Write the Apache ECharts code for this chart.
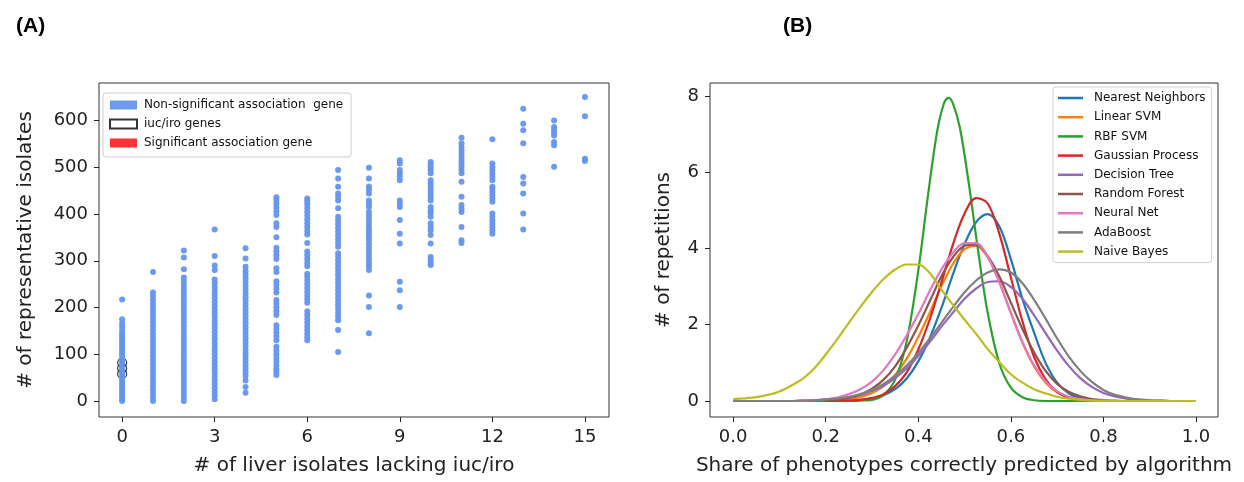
<!DOCTYPE html>
<html>
<head>
<meta charset="utf-8">
<script src="https://cdn.jsdelivr.net/npm/echarts@6/dist/echarts.min.js"></script>
<style>
  html, body { margin: 0; padding: 0; background: #fff; }
  #chart { width: 1244px; height: 482px; }
</style>
</head>
<body>
<div id="chart"></div>
<script>
// ---- panel A: liver isolates vs representative isolates ----
const liverIsolates = [0, 1, 2, 3, 4, 5, 6, 7, 8, 9, 10, 11, 12, 13, 14, 15];
const repIsolates = [
  [0, 5, 10, 15, 20, 25, 30, 35, 40, 45, 50, 55, 60, 65, 70, 75, 80, 85, 90, 95, 100, 105, 110, 115, 120, 125, 130, 135, 140, 145, 152, 159, 166, 175, 217],
  [0, 8, 16, 24, 32, 40, 48, 56, 64, 72, 80, 88, 96, 104, 112, 120, 128, 136, 144, 152, 160, 168, 176, 184, 192, 200, 208, 216, 224, 232, 276],
  [0, 8, 16, 24, 32, 40, 48, 56, 64, 72, 80, 88, 96, 104, 112, 120, 128, 136, 144, 152, 160, 168, 176, 184, 192, 200, 208, 216, 224, 232, 240, 248, 256, 264, 282, 307, 322],
  [4, 12, 20, 28, 36, 44, 52, 60, 68, 76, 84, 92, 100, 108, 116, 124, 132, 140, 148, 156, 164, 172, 180, 188, 196, 204, 212, 220, 228, 236, 244, 252, 260, 280, 290, 310, 367],
  [18, 30, 44, 54, 62, 70, 78, 86, 94, 102, 110, 118, 126, 134, 142, 150, 158, 166, 174, 182, 190, 198, 206, 214, 222, 230, 238, 246, 254, 262, 270, 278, 287, 305, 327],
  [56, 62, 68, 76, 84, 92, 100, 108, 116, 130, 138, 146, 154, 162, 184, 192, 200, 208, 216, 232, 240, 248, 256, 276, 284, 304, 312, 320, 328, 350, 372, 380, 398, 406, 414, 422, 430, 436],
  [130, 137, 144, 152, 160, 168, 176, 184, 192, 210, 218, 226, 234, 242, 250, 258, 266, 272, 288, 296, 304, 312, 320, 338, 356, 364, 372, 380, 388, 396, 404, 412, 420, 427, 433],
  [105, 152, 173, 181, 189, 197, 205, 213, 221, 229, 237, 245, 253, 261, 269, 277, 285, 293, 301, 309, 316, 330, 338, 346, 354, 362, 370, 378, 386, 394, 412, 429, 437, 444, 458, 476, 494],
  [145, 201, 226, 280, 288, 296, 304, 312, 320, 328, 336, 344, 351, 358, 365, 372, 380, 388, 396, 404, 415, 422, 429, 444, 452, 459, 476, 499],
  [201, 237, 255, 337, 358, 387, 415, 422, 429, 472, 480, 487, 494, 508, 515],
  [291, 296, 302, 308, 337, 355, 365, 372, 380, 394, 402, 408, 415, 429, 436, 443, 450, 458, 465, 472, 487, 494, 500, 506, 511],
  [338, 344, 372, 404, 411, 419, 437, 469, 487, 494, 501, 508, 515, 522, 529, 536, 543, 551, 563],
  [358, 365, 372, 379, 386, 394, 401, 426, 433, 440, 447, 454, 458, 472, 479, 486, 493, 500, 508, 560],
  [367, 401, 444, 465, 479, 551, 579, 593, 625],
  [501, 547, 554, 568, 574, 580, 586, 600],
  [513, 518, 609, 650]
];
const iucIroGenes = [[0, 58], [0, 70], [0, 82]];
const sigGenes = [];
const liverTicks = [0, 3, 6, 9, 12, 15];
const isolateTicks = [0, 100, 200, 300, 400, 500, 600];

// ---- panel B: density of correct-prediction share per algorithm ----
const shareGrid = [0, 0.025, 0.05, 0.075, 0.1, 0.125, 0.15, 0.175, 0.2, 0.225, 0.25, 0.275, 0.3, 0.325, 0.35, 0.375, 0.4, 0.425, 0.45, 0.475, 0.5,
  0.525, 0.55, 0.575, 0.6, 0.625, 0.65, 0.675, 0.7, 0.725, 0.75, 0.775, 0.8, 0.825, 0.85, 0.875, 0.9, 0.925, 0.95, 0.975, 1.0];
// RBF SVM is narrow, so it gets its own finer grid around the peak
const rbfShareGrid = [0, 0.1, 0.2, 0.25, 0.275, 0.3, 0.325, 0.35, 0.375, 0.4, 0.42, 0.44, 0.455, 0.465, 0.475, 0.49, 0.51, 0.53,
  0.55, 0.575, 0.6, 0.625, 0.65, 0.675, 0.7, 0.8, 0.9, 1.0];
const algorithms = ['Nearest Neighbors', 'Linear SVM', 'RBF SVM', 'Gaussian Process', 'Decision Tree', 'Random Forest', 'Neural Net', 'AdaBoost', 'Naive Bayes'];
const nearestNeighbors = [0, 0, 0, 0, 0, 0, 0, 0, 0, 0, 0.01, 0.03, 0.06, 0.15, 0.31, 0.59, 1.04, 1.66, 2.44, 3.33, 4.12,
  4.69, 4.90, 4.58, 3.72, 2.68, 1.80, 1.00, 0.48, 0.20, 0.07, 0.02, 0.01, 0, 0, 0, 0, 0, 0, 0, 0];
const linearSvm = [0, 0, 0, 0, 0, 0, 0, 0, 0.01, 0.02, 0.05, 0.10, 0.21, 0.39, 0.68, 1.11, 1.68, 2.32, 3.01, 3.60, 3.98,
  4.07, 3.77, 3.13, 2.31, 1.53, 0.91, 0.48, 0.23, 0.10, 0.04, 0.01, 0, 0, 0, 0, 0, 0, 0, 0, 0];
const rbfSvm = [0, 0, 0, 0, 0.01, 0.03, 0.16, 0.56, 1.57, 3.42, 5.30, 7.02, 7.79, 7.95, 7.80, 7.16, 5.63, 3.87,
  2.31, 0.99, 0.35, 0.10, 0.02, 0, 0, 0, 0, 0];
const gaussianProcess = [0, 0, 0, 0, 0, 0, 0, 0, 0, 0, 0.01, 0.03, 0.08, 0.18, 0.39, 0.75, 1.35, 2.15, 3.11, 4.11, 4.92,
  5.32, 5.18, 4.39, 3.24, 2.09, 1.16, 0.57, 0.24, 0.09, 0.03, 0.01, 0, 0, 0, 0, 0, 0, 0, 0, 0];
const decisionTree = [0, 0, 0, 0, 0, 0, 0.01, 0.01, 0.03, 0.05, 0.09, 0.16, 0.26, 0.40, 0.60, 0.86, 1.18, 1.55, 1.95, 2.32, 2.68,
  2.95, 3.12, 3.14, 2.99, 2.68, 2.25, 1.78, 1.32, 0.92, 0.60, 0.37, 0.21, 0.12, 0.06, 0.03, 0.01, 0.01, 0, 0, 0];
const randomForest = [0, 0, 0, 0, 0, 0, 0, 0.01, 0.02, 0.04, 0.08, 0.17, 0.32, 0.56, 0.91, 1.40, 1.98, 2.62, 3.27, 3.77, 4.07,
  4.10, 3.80, 3.27, 2.58, 1.89, 1.28, 0.79, 0.45, 0.24, 0.12, 0.05, 0.02, 0.01, 0, 0, 0, 0, 0, 0, 0];
const neuralNet = [0, 0, 0, 0, 0, 0, 0.01, 0.02, 0.05, 0.09, 0.18, 0.31, 0.51, 0.81, 1.22, 1.72, 2.28, 2.89, 3.45, 3.89, 4.14,
  4.14, 3.78, 3.11, 2.31, 1.55, 0.94, 0.51, 0.25, 0.11, 0.05, 0.02, 0.01, 0, 0, 0, 0, 0, 0, 0, 0];
const adaBoost = [0, 0, 0, 0, 0, 0, 0.01, 0.02, 0.04, 0.06, 0.11, 0.18, 0.29, 0.45, 0.66, 0.93, 1.26, 1.64, 2.05, 2.46, 2.85,
  3.16, 3.37, 3.45, 3.37, 3.09, 2.66, 2.16, 1.64, 1.17, 0.79, 0.50, 0.29, 0.16, 0.09, 0.04, 0.02, 0.01, 0, 0, 0];
const naiveBayes = [0.05, 0.07, 0.10, 0.16, 0.25, 0.40, 0.58, 0.85, 1.22, 1.62, 2.05, 2.47, 2.86, 3.20, 3.45, 3.58, 3.58, 3.35, 2.92, 2.52, 2.13,
  1.76, 1.36, 1.02, 0.70, 0.48, 0.31, 0.20, 0.11, 0.06, 0.03, 0.01, 0, 0, 0, 0, 0, 0, 0, 0, 0];
const curves = [nearestNeighbors, linearSvm, rbfSvm, gaussianProcess, decisionTree, randomForest, neuralNet, adaBoost, naiveBayes];
const curveGrids = [shareGrid, shareGrid, rbfShareGrid, shareGrid, shareGrid, shareGrid, shareGrid, shareGrid, shareGrid];
const curveColors = ['#1f77b4', '#ff7f0e', '#2ca02c', '#d62728', '#9467bd', '#8c564b', '#e377c2', '#7f7f7f', '#bcbd22'];
const shareTicks = [0, 0.2, 0.4, 0.6, 0.8, 1.0];
const repetitionTicks = [0, 2, 4, 6, 8];

const FONT = 'DejaVu Sans';
const tickLabel = { fontFamily: FONT, fontSize: 18, color: '#222' };
const axisName = { fontFamily: FONT, fontSize: 20, color: '#222' };

// one scatter point per (column, value)
const nonSigPoints = [];
liverIsolates.forEach((x, i) => {
    repIsolates[i].forEach(y => nonSigPoints.push([x, y]));
});

const baseAxis = (ticks, fmt) => ({
    type: 'value',
    splitLine: { show: false },
    axisLine: { show: false, onZero: false },
    axisTick: { show: true, customValues: ticks, length: 5, lineStyle: { color: '#222', width: 1 } },
    axisLabel: { customValues: ticks, formatter: fmt, margin: 11, ...tickLabel },
    nameLocation: 'middle',
    nameTextStyle: axisName
});

const legendBox = {
    orient: 'vertical',
    backgroundColor: 'rgba(255,255,255,0.85)', borderColor: '#d0d0d0', borderWidth: 1, borderRadius: 3,
    selectedMode: false
};

const option = {
    animation: false,
    backgroundColor: '#fff',
    title: [
        { text: '(A)', left: 11, top: 11, textStyle: { fontFamily: 'Liberation Sans', fontSize: 21, fontWeight: 'bold', color: '#000' } },
        { text: '(B)', left: 778, top: 11, textStyle: { fontFamily: 'Liberation Sans', fontSize: 21, fontWeight: 'bold', color: '#000' } }
    ],
    grid: [
        { left: 99, right: 635, top: 83, bottom: 65, show: true, borderColor: '#333', borderWidth: 1, backgroundColor: 'transparent' },
        { left: 710, right: 26, top: 83, bottom: 65, show: true, borderColor: '#333', borderWidth: 1, backgroundColor: 'transparent' }
    ],
    xAxis: [
        { ...baseAxis(liverTicks, v => String(v)), gridIndex: 0, min: -0.75, max: 15.78,
          name: '# of liver isolates lacking iuc/iro', nameGap: 39 },
        { ...baseAxis(shareTicks, v => v.toFixed(1)), gridIndex: 1, min: -0.05, max: 1.0475,
          name: 'Share of phenotypes correctly predicted by algorithm', nameGap: 39 }
    ],
    yAxis: [
        { ...baseAxis(isolateTicks, v => String(v)), gridIndex: 0, min: -34, max: 680,
          name: '# of representative isolates', nameGap: 63 },
        { ...baseAxis(repetitionTicks, v => String(v)), gridIndex: 1, min: -0.42, max: 8.34,
          name: '# of repetitions', nameGap: 36 }
    ],
    legend: [
        {
            ...legendBox,
            data: ['Non-significant association  gene', 'iuc/iro genes', 'Significant association gene'],
            left: 103, top: 93,
            icon: 'rect', itemWidth: 27, itemHeight: 9, itemGap: 7,
            padding: [6, 8, 8, 6],
            textStyle: { fontFamily: FONT, fontSize: 12, color: '#111', lineHeight: 12, padding: [0, 0, 0, 2] }
        },
        {
            ...legendBox,
            data: algorithms,
            left: 1053, top: 87,
            icon: 'rect', itemWidth: 25, itemHeight: 2.5, itemGap: 7.2,
            padding: [5, 6, 5, 5],
            textStyle: { fontFamily: FONT, fontSize: 12, color: '#111', lineHeight: 12, padding: [0, 0, 0, 6] }
        }
    ],
    series: [
        {
            // drawn first so the blue dots sit on top of the black rings
            name: 'iuc/iro genes', type: 'scatter', xAxisIndex: 0, yAxisIndex: 0,
            data: iucIroGenes, symbolSize: 9, z: 1,
            itemStyle: { color: 'rgba(255,255,255,0)', borderColor: '#000', borderWidth: 1.2 }
        },
        {
            name: 'Non-significant association  gene', type: 'scatter', xAxisIndex: 0, yAxisIndex: 0,
            data: nonSigPoints, symbolSize: 6, z: 2,
            itemStyle: { color: '#6495ED', opacity: 0.95 }
        },
        {
            name: 'Significant association gene', type: 'scatter', xAxisIndex: 0, yAxisIndex: 0,
            data: sigGenes, symbolSize: 6, z: 2,
            itemStyle: { color: '#ff0000' }
        },
        ...algorithms.map((name, k) => ({
            name, type: 'line', xAxisIndex: 1, yAxisIndex: 1,
            data: curveGrids[k].map((x, i) => [x, curves[k][i]]),
            smooth: 0.35, showSymbol: false, symbol: 'none',
            color: curveColors[k],
            lineStyle: { width: 2.2, color: curveColors[k] },
            itemStyle: { color: curveColors[k] }
        }))
    ]
};

const chart = echarts.init(document.getElementById('chart'), null, { renderer: 'canvas' });
chart.setOption(option);
</script>
</body>
</html>
